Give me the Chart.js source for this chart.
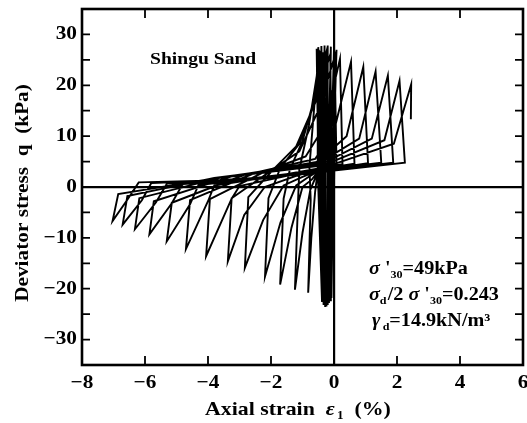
<!DOCTYPE html>
<html>
<head>
<meta charset="utf-8">
<script src="https://cdn.jsdelivr.net/npm/chart.js@4.4.1/dist/chart.umd.min.js"></script>
<style>
  html, body { margin: 0; padding: 0; background: #fff; }
  canvas { display: block; }
</style>
</head>
<body>
<canvas id="loopChart" width="527" height="423"></canvas>
<script>
// axis ticks
const strainTicks = [-8, -6, -4, -2, 0, 2, 4, 6];
const stressTicks = [-30, -20, -10, 0, 10, 20, 30];
const stressTickMarks = [-30, -25, -20, -15, -10, -5, 0, 5, 10, 15, 20, 25, 30];

// first cycles: small strain, full stress amplitude  [strain %, q kPa]
const denseCycles = [
    [0, 0],
    [0.05, 26.6], [-0.02, 5], [-0.08, -21.8],
    [-0.05, 3], [0.08, 27.0], [-0.03, 4], [-0.12, -22.3],
    [-0.1, 3], [0.0, 27.3], [-0.1, 4], [-0.16, -22.8],
    [-0.15, 3], [-0.1, 27.6], [-0.18, 4], [-0.2, -23.2],
    [-0.2, 3], [-0.2, 27.8], [-0.27, 4], [-0.24, -23.5],
    [-0.28, 3], [-0.3, 27.8], [-0.36, 4], [-0.28, -23.6],
    [-0.34, 3], [-0.4, 27.7], [-0.45, 4], [-0.33, -23.2],
    [-0.4, 3], [-0.5, 27.5], [-0.52, 4], [-0.38, -22.6],
    [-0.48, 3], [-0.55, 27.2]
];

// later cycles: strain grows into extension after liquefaction
const liquefiedCycles = [
    [-0.5, 4], [-0.6, -1], [-0.72, -10], [-0.82, -20.8],
    [-0.74, -2.5], [-0.78, 4], [-0.65, 14], [-0.48, 27.0],
    [-0.44, 4], [-0.75, -0.5], [-1.0, -9], [-1.24, -20.2],
    [-1.14, -2.5], [-1.1, 3.5], [-0.8, 12], [-0.42, 26.8],
    [-0.38, 4], [-0.7, 1.5], [-1.0, 0], [-1.35, -8], [-1.71, -19.2],
    [-1.6, -2.3], [-1.4, 3.5], [-1.0, 9], [-0.6, 18], [-0.35, 26.5],
    [-0.3, 4], [-0.8, 2], [-1.2, 0.3], [-1.7, -7], [-2.19, -17.6],
    [-2.08, -2.2], [-1.7, 3.8], [-1.1, 8.5], [-0.6, 17], [-0.25, 26.3],
    [-0.2, 4], [-1.0, 2], [-1.6, 0.3], [-2.25, -6.5], [-2.83, -15.9],
    [-2.72, -2.0], [-1.9, 3.6], [-1.2, 8], [-0.6, 16.5], [-0.12, 26.0],
    [-0.07, 4.2], [-1.2, 2.2], [-2.2, 0], [-2.85, -5.5], [-3.37, -14.6],
    [-3.25, -2.2], [-2.0, 3.2], [-1.1, 7], [-0.5, 15], [0.02, 25.6],
    [0.08, 4.3], [-1.5, 2.2], [-3.0, 0.2], [-3.25, -2.3], [-4.06, -13.6],
    [-3.94, -2.4], [-2.2, 3.0], [-0.9, 6], [-0.3, 12], [0.19, 25.2],
    [0.27, 4.5], [-2.0, 2.0], [-3.8, 0.3], [-4.0, -2.8], [-4.70, -12.2],
    [-4.57, -2.6], [-2.5, 2.8], [-0.6, 5.5], [0.0, 11], [0.54, 24.6],
    [0.65, 4.6], [-2.0, 2.0], [-4.3, 0.4], [-4.57, -3.4], [-5.31, -10.7],
    [-5.15, -3.1], [-2.8, 2.5], [-0.5, 5.0], [0.4, 10], [0.93, 23.6],
    [1.08, 4.7], [-2.0, 1.8], [-4.8, 0.6], [-5.15, -3.2], [-5.86, -9.3],
    [-5.72, -2.8], [-3.2, 2.2], [-0.4, 5.0], [0.8, 9.5], [1.32, 22.7],
    [1.5, 4.8], [-2.5, 1.8], [-5.3, 0.7], [-5.65, -3.0], [-6.32, -8.3],
    [-6.18, -2.2], [-3.5, 2.0], [-0.3, 4.8], [1.2, 9.5], [1.71, 21.9],
    [1.88, 4.8], [-2.5, 1.6], [-5.8, 0.8], [-6.1, -2.6], [-6.71, -7.4],
    [-6.56, -1.8], [-3.8, 1.8], [-0.2, 4.6], [1.6, 9.2], [2.08, 20.9],
    [2.25, 4.8], [-2.5, 1.5], [-6.2, 0.9], [-6.55, -2.4], [-7.03, -6.7],
    [-6.85, -1.4], [-4.0, 1.5], [0.0, 4.5], [1.9, 8.5], [2.45, 20.2], [2.44, 13.3]
];

const SERIF = '"Liberation Serif", "Times New Roman", serif';
const STRETCH = 1.12;

// draws a row of text pieces, sub pieces are smaller and lowered
function drawRuns(ctx, x, y, runs, size) {
    ctx.save();
    ctx.translate(x, y);
    ctx.scale(STRETCH, 1);
    let cx = 0;
    runs.forEach(r => {
        const s = r.sub ? size * 0.6 : size;
        ctx.font = (r.italic ? "italic " : "") + "bold " + s + "px " + SERIF;
        ctx.fillText(r.t, cx, r.sub ? size * 0.22 : 0);
        cx += ctx.measureText(r.t).width + (r.gap || 0);
    });
    ctx.restore();
}

function stretchedText(ctx, text, x, y, size, align) {
    ctx.save();
    ctx.font = "bold " + size + "px " + SERIF;
    const w = ctx.measureText(text).width * STRETCH;
    let left = x;
    if (align === "center") left = x - w / 2;
    if (align === "right") left = x - w;
    ctx.translate(left, y);
    ctx.scale(STRETCH, 1);
    ctx.fillText(text, 0, 0);
    ctx.restore();
}

const minus = v => (v < 0 ? "\u2212" + Math.abs(v) : String(v));

const framePlugin = {
    id: "frame",
    afterDraw(chart) {
        const { ctx, chartArea: a, scales } = chart;
        ctx.save();
        ctx.strokeStyle = "#000";
        ctx.fillStyle = "#000";

        // inner ticks on all four sides
        ctx.lineWidth = 1.8;
        ctx.beginPath();
        stressTickMarks.forEach(v => {
            const py = scales.y.getPixelForValue(v);
            ctx.moveTo(a.left, py); ctx.lineTo(a.left + 8, py);
            ctx.moveTo(a.right, py); ctx.lineTo(a.right - 8, py);
        });
        strainTicks.forEach(v => {
            const px = scales.x.getPixelForValue(v);
            ctx.moveTo(px, a.bottom); ctx.lineTo(px, a.bottom - 9);
            ctx.moveTo(px, a.top); ctx.lineTo(px, a.top + 9);
        });
        ctx.stroke();

        ctx.lineWidth = 2.6;
        ctx.strokeRect(a.left, a.top, a.right - a.left, a.bottom - a.top);

        // tick labels
        ctx.textBaseline = "middle";
        stressTicks.forEach(v => {
            stretchedText(ctx, minus(v), 77, scales.y.getPixelForValue(v), 19, "right");
        });
        strainTicks.forEach(v => {
            stretchedText(ctx, minus(v), scales.x.getPixelForValue(v), 383, 19, "center");
        });

        // axis titles
        ctx.textBaseline = "alphabetic";
        drawRuns(ctx, 205, 415, [
            { t: "Axial strain  " },
            { t: "\u03b5", italic: true, gap: 2 },
            { t: "1", sub: true },
            { t: "  (%)" }
        ], 19.5);

        ctx.save();
        ctx.translate(28, 193);
        ctx.rotate(-Math.PI / 2);
        stretchedText(ctx, "Deviator stress  q  (kPa)", 0, 0, 19, "center");
        ctx.restore();

        // annotations
        stretchedText(ctx, "Shingu Sand", 150, 64, 17.5, "left");
        drawRuns(ctx, 369, 274, [
            { t: "\u03c3", italic: true },
            { t: " '" },
            { t: "30", sub: true },
            { t: "=49kPa" }
        ], 18);
        drawRuns(ctx, 369, 300, [
            { t: "\u03c3", italic: true },
            { t: "d", sub: true, gap: 1 },
            { t: "/2 " },
            { t: "\u03c3", italic: true },
            { t: " '" },
            { t: "30", sub: true },
            { t: "=0.243" }
        ], 18);
        drawRuns(ctx, 372, 326, [
            { t: "\u03b3", italic: true, gap: 2 },
            { t: "d", sub: true },
            { t: "=14.9kN/m\u00b3" }
        ], 18);
        ctx.restore();
    }
};

const ctx = document.getElementById("loopChart").getContext("2d");
const path = denseCycles.concat(liquefiedCycles).map(p => ({ x: p[0], y: p[1] }));

new Chart(ctx, {
    type: "scatter",
    data: {
        datasets: [
            {
                data: path,
                showLine: true,
                borderColor: "#000",
                borderWidth: 1.9,
                pointRadius: 0,
                tension: 0,
                fill: false,
            },
        ],
    },
    options: {
        responsive: false,
        animation: false,
        layout: { padding: { top: 9, right: 4, left: 0, bottom: 0 } },
        plugins: {
            legend: { display: false },
            tooltip: { enabled: false },
        },
        scales: {
            x: {
                type: "linear",
                min: -8,
                max: 6,
                ticks: { display: false, stepSize: 2 },
                grid: {
                    drawTicks: false,
                    lineWidth: 2.2,
                    color: c => (c.tick && c.tick.value === 0 ? "#000" : "rgba(0,0,0,0)"),
                },
                border: { display: false },
                afterFit: s => { s.height = 58; },
            },
            y: {
                min: -35,
                max: 35,
                ticks: { display: false, stepSize: 5 },
                grid: {
                    drawTicks: false,
                    lineWidth: 2.2,
                    color: c => (c.tick && c.tick.value === 0 ? "#000" : "rgba(0,0,0,0)"),
                },
                border: { display: false },
                afterFit: s => { s.width = 82; },
            },
        },
    },
    plugins: [framePlugin],
});
</script>
</body>
</html>
